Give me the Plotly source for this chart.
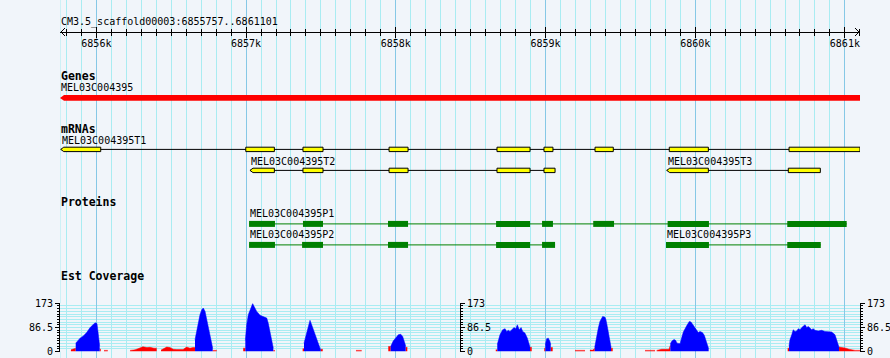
import plotly.graph_objects as go

# ---------------- data ----------------
seq_name = "CM3.5_scaffold00003"
region_start = 6855757
region_end = 6861101
tick_vals = [6856000, 6857000, 6858000, 6859000, 6860000, 6861000]
tick_labels = ["6856k", "6857k", "6858k", "6859k", "6860k", "6861k"]

track_titles = ["Genes", "mRNAs", "Proteins", "Est Coverage"]

gene_name = "MEL03C004395"
gene_span = [6855757, 6861101]

mrna_names = ["MEL03C004395T1", "MEL03C004395T2", "MEL03C004395T3"]
mrna_rows = [0, 1, 1]
mrna_exons = [
    [[6855762, 6856029], [6856998, 6857189], [6857380, 6857514], [6857955, 6858082],
     [6858676, 6858897], [6858990, 6859050], [6859331, 6859453], [6859827, 6860088],
     [6860627, 6861101]],
    [[6857026, 6857189], [6857380, 6857514], [6857955, 6858082], [6858676, 6858897],
     [6858990, 6859064]],
    [[6859810, 6860088], [6860622, 6860836]],
]

protein_names = ["MEL03C004395P1", "MEL03C004395P2", "MEL03C004395P3"]
protein_rows = [0, 1, 1]
protein_blocks = [
    [[6857020, 6857193], [6857380, 6857514], [6857948, 6858082], [6858670, 6858897],
     [6858977, 6859050], [6859319, 6859458], [6859816, 6860092], [6860615, 6861012]],
    [[6857020, 6857193], [6857374, 6857514], [6857948, 6858082], [6858670, 6858897],
     [6858977, 6859064]],
    [[6859805, 6860092], [6860615, 6860839]],
]

cov_max = 173
cov_tick_vals = [0, 86.5, 173]
cov_tick_labels = ["0", "86.5", "173"]

cov_blue_pos = [
    6855862, 6855879, 6855891, 6855913, 6855935, 6855957, 6855975, 6855984, 6855997, 6856004, 6856011, 6856017, 6856022, None,
    6856659, 6856670, 6856681, 6856692, 6856704, 6856714, 6856726, 6856737, 6856748, 6856759, 6856770, 6856777, None,
    6856995, 6857004, 6857015, 6857026, 6857044, 6857053, 6857071, 6857093, 6857115, 6857138, 6857148, 6857160, 6857171, 6857182, None,
    6857387, 6857405, 6857418, 6857427, 6857438, 6857449, 6857460, 6857472, 6857482, 6857494, 6857498, None,
    6857966, 6857983, 6858002, 6858017, 6858033, 6858046, 6858057, 6858066, None,
    6858678, 6858696, 6858714, 6858730, 6858741, 6858752, 6858763, 6858774, 6858790, 6858801, 6858812, 6858825, 6858837, 6858848, 6858863, 6858879, 6858892, 6858897, None,
    6858999, 6859008, 6859019, 6859030, 6859035, None,
    6859329, 6859342, 6859353, 6859364, 6859376, 6859382, 6859398, 6859404, 6859413, 6859422, 6859431, 6859438, None,
    6859834, 6859845, 6859859, 6859869, 6859879, 6859899, 6859910, 6859921, 6859943, 6859961, 6859972, 6859983, 6859999, 6860010, 6860021, 6860032, 6860048, 6860061, 6860072, 6860084, 6860090, None,
    6860627, 6860633, 6860645, 6860655, 6860667, 6860678, 6860689, 6860700, 6860712, 6860722, 6860734, 6860745, 6860756, 6860767, 6860778, 6860789, 6860800, 6860822, 6860845, 6860867, 6860889, 6860912, 6860934, 6860945, 6860956, 6860961,
]
cov_blue_val = [
    30, 42, 48, 56, 68, 85, 97, 100, 103, 100, 70, 40, 20, None,
    42, 72, 108, 132, 150, 156, 144, 114, 78, 48, 24, 12, None,
    40, 96, 132, 150, 172, 162, 144, 130, 124, 120, 102, 72, 42, 12, None,
    30, 72, 102, 112, 96, 78, 60, 42, 28, 12, 8, None,
    18, 38, 50, 60, 62, 54, 36, 20, None,
    25, 60, 78, 82, 72, 76, 72, 78, 86, 82, 96, 78, 86, 72, 66, 48, 24, 15, None,
    24, 46, 48, 36, 24, None,
    15, 60, 84, 108, 120, 126, 123, 114, 90, 60, 31, 15, None,
    28, 38, 43, 40, 30, 28, 50, 70, 92, 108, 106, 98, 84, 74, 68, 72, 68, 58, 40, 20, 10, None,
    20, 42, 60, 78, 72, 74, 82, 78, 86, 90, 96, 86, 90, 84, 78, 82, 76, 74, 76, 72, 72, 70, 60, 42, 24, 15,
]

cov_red_pos = [
    6855830, 6855844, 6855862, None, 6856022, 6856029, None, 6856051, 6856076, None,
    6856225, 6856258, 6856278, 6856291, 6856311, 6856338, 6856358, 6856385, 6856403, None,
    6856432, 6856445, 6856458, 6856470, 6856492, 6856514, 6856537, 6856579, 6856603, 6856625, 6856645, 6856659, None,
    6856777, 6856804, None, 6856981, 6856995, None, 6857182, 6857193, None, 6857378, 6857387, None,
    6857498, 6857512, None, 6857734, 6857772, None, 6857950, 6857966, None, 6858066, 6858077, None,
    6858668, 6858678, None, 6858897, 6858908, None, 6858992, 6858999, None, 6859035, 6859048, None,
    6859197, 6859264, None, 6859297, 6859317, 6859329, None, 6859438, 6859449, None, 6859665, 6859732, None,
    6859743, 6859776, 6859825, 6859834, None, 6860618, 6860627, None,
    6860961, 6860987, 6861007, 6861028, 6861046, 6861068, 6861101,
]
cov_red_val = [
    6, 8, 12, None, 10, 8, None, 4, 4, None,
    4, 6, 10, 14, 17, 14, 15, 12, 12, None,
    5, 8, 12, 16, 14, 8, 7, 7, 16, 12, 14, 14, None,
    4, 4, None, 12, 12, None, 4, 4, None, 10, 10, None,
    8, 8, None, 4, 4, None, 18, 18, None, 15, 15, None,
    6, 6, None, 15, 15, None, 12, 12, None, 14, 14, None,
    4, 4, None, 5, 5, 12, None, 12, 12, None, 4, 4, None,
    4, 8, 8, 22, None, 12, 12, None,
    16, 14, 12, 8, 5, 4, 4,
]

# ---------------- style / layout ----------------
W, H = 890, 358
ML, MR = 60, 30
BG = "#f1f5fa"
GRID_MINOR = "#a9ecf2"
GRID_MAJOR = "#86c8e6"
MONO = "DejaVu Sans Mono"
BP_PER_PX = (region_end - region_start) / (W - ML - MR)

RULER_Y = 32
COV_TOP_Y, COV_BASE_Y = 303.3, 351.5


def split_segments(xs, ys):
    segs, cx, cy = [], [], []
    for a, b in zip(xs, ys):
        if a is None:
            if cx:
                segs.append((cx, cy))
            cx, cy = [], []
        else:
            cx.append(a)
            cy.append(b)
    if cx:
        segs.append((cx, cy))
    return segs


fig = go.Figure()

# coverage
for xs, ys in split_segments(cov_red_pos, cov_red_val):
    fig.add_trace(go.Scatter(x=xs, y=ys, xaxis="x", yaxis="y2", mode="lines",
                             line=dict(width=0.5, color="#ff0000"), fill="tozeroy",
                             fillcolor="#ff0000", hoverinfo="skip", showlegend=False))
for xs, ys in split_segments(cov_blue_pos, cov_blue_val):
    fig.add_trace(go.Scatter(x=xs, y=ys, xaxis="x", yaxis="y2", mode="lines",
                             line=dict(width=0.5, color="#0000ff"), fill="tozeroy",
                             fillcolor="#0000ff", hoverinfo="skip", showlegend=False))

# invisible anchors for other axes
for ya in ["y", "y3", "y4"]:
    fig.add_trace(go.Scatter(x=[region_start], y=[0 if ya != "y" else -10], xaxis="x", yaxis=ya,
                             mode="markers", marker=dict(opacity=0), hoverinfo="skip",
                             showlegend=False))
fig.add_trace(go.Scatter(x=[region_start], y=[-10], xaxis="x2", yaxis="y",
                         mode="markers", marker=dict(opacity=0), hoverinfo="skip",
                         showlegend=False))

shapes = []
annotations = []

# left edge grid line
shapes.append(dict(type="line", xref="x", yref="paper", x0=region_start, x1=region_start,
                   y0=0, y1=1, line=dict(color=GRID_MINOR, width=1), layer="below"))

# ruler arrows
shapes.append(dict(type="path", xref="x", yref="y", xsizemode="pixel", xanchor=region_start,
                   path=f"M5,{RULER_Y-4} L1,{RULER_Y} L5,{RULER_Y+4}",
                   line=dict(color="black", width=1)))
shapes.append(dict(type="path", xref="x", yref="y", xsizemode="pixel", xanchor=region_end,
                   path=f"M-5,{RULER_Y-4} L-1,{RULER_Y} L-5,{RULER_Y+4}",
                   line=dict(color="black", width=1)))

annotations.append(dict(xref="paper", yref="y", x=0, y=21.7, xanchor="left", yanchor="middle",
                        text=f"{seq_name}:{region_start}..{region_end}", showarrow=False,
                        font=dict(family=MONO, size=10, color="black"), borderpad=0))

# track titles
title_y = [76, 128.5, 202, 275.7]
for t, ty in zip(track_titles, title_y):
    annotations.append(dict(xref="paper", yref="y", x=0, y=ty, xanchor="left", yanchor="middle",
                            text=f"<b>{t}</b>", showarrow=False,
                            font=dict(family=MONO, size=11.5, color="black"), borderpad=0))

# gene
gy0, gy1, gyc = 95, 100.8, 97.9
tip = 4 * BP_PER_PX
g0, g1 = gene_span
shapes.append(dict(type="path", xref="x", yref="y",
                   path=f"M{g0},{gyc} L{g0+tip},{gy0} L{g1},{gy0} L{g1},{gy1} L{g0+tip},{gy1} Z",
                   fillcolor="#ff0000", line=dict(width=0)))
annotations.append(dict(xref="x", yref="y", x=g0, y=87.3, xanchor="left", yanchor="middle",
                        text=gene_name, showarrow=False,
                        font=dict(family=MONO, size=10, color="black"), borderpad=0))

# mRNAs
for name, row, exons in zip(mrna_names, mrna_rows, mrna_exons):
    yc = 149.4 + 21 * row
    s = min(e[0] for e in exons)
    e_ = max(e[1] for e in exons)
    shapes.append(dict(type="line", xref="x", yref="y", x0=s, x1=e_, y0=yc, y1=yc,
                       line=dict(color="black", width=1)))
    for i, (a, b) in enumerate(sorted(exons)):
        if i == 0:
            t3 = 3 * BP_PER_PX
            path = f"M{a},{yc} L{a+t3},{yc-2.2} L{b},{yc-2.2} L{b},{yc+2.2} L{a+t3},{yc+2.2} Z"
        else:
            path = f"M{a},{yc-2.2} L{b},{yc-2.2} L{b},{yc+2.2} L{a},{yc+2.2} Z"
        shapes.append(dict(type="path", xref="x", yref="y", path=path,
                           fillcolor="#ffff00", line=dict(color="black", width=1)))
    annotations.append(dict(xref="x", yref="y", x=s, y=yc - 9.3, xanchor="left", yanchor="middle",
                            text=name, showarrow=False,
                            font=dict(family=MONO, size=10, color="black"), borderpad=0))

# proteins
for name, row, blocks in zip(protein_names, protein_rows, protein_blocks):
    yc = 223.9 + 21 * row
    s = min(b[0] for b in blocks)
    e_ = max(b[1] for b in blocks)
    shapes.append(dict(type="line", xref="x", yref="y", x0=s, x1=e_, y0=yc, y1=yc,
                       line=dict(color="#008000", width=1)))
    for a, b in blocks:
        shapes.append(dict(type="rect", xref="x", yref="y", x0=a, x1=b, y0=yc - 3, y1=yc + 3,
                           fillcolor="#008000", line=dict(width=0)))
    annotations.append(dict(xref="x", yref="y", x=s, y=yc - 10.3, xanchor="left", yanchor="middle",
                            text=name, showarrow=False,
                            font=dict(family=MONO, size=10, color="black"), borderpad=0))

ruler_pos = (H - RULER_Y) / H
cov_dom = [(H - COV_BASE_Y) / H, (H - COV_TOP_Y) / H]
cov_minor = cov_max / 18

common_cov_axis = dict(range=[0, cov_max], tickmode="array", tickvals=cov_tick_vals,
                       ticktext=cov_tick_labels, ticks="outside", ticklen=4, tickwidth=1,
                       tickcolor="black", showline=True, linecolor="black", linewidth=1,
                       zeroline=False, fixedrange=True, automargin=False,
                       tickfont=dict(family=MONO, size=10, color="black"))

fig.update_layout(
    width=W, height=H,
    margin=dict(l=ML, r=MR, t=0, b=0, pad=0, autoexpand=False),
    paper_bgcolor=BG, plot_bgcolor=BG,
    showlegend=False,
    xaxis=dict(range=[region_start, region_end], anchor="free", position=ruler_pos,
               side="bottom", showline=True, linecolor="black", linewidth=1,
               tickmode="array", tickvals=tick_vals, ticktext=tick_labels,
               ticks="outside", ticklen=5, tickwidth=1, tickcolor="black",
               ticklabelstandoff=-3,
               tickfont=dict(family=MONO, size=10, color="black"),
               showgrid=True, gridcolor=GRID_MAJOR, gridwidth=1, zeroline=False,
               automargin=False,
               minor=dict(tickmode="linear", tick0=0, dtick=100, ticks="outside",
                          ticklen=3, tickwidth=1, tickcolor="black",
                          showgrid=True, gridcolor=GRID_MINOR, gridwidth=1),
               fixedrange=True),
    xaxis2=dict(range=[region_start, region_end], matches="x", overlaying="x",
                anchor="free", position=ruler_pos, side="top", showline=False,
                tickmode="array", tickvals=tick_vals, showticklabels=False,
                ticks="outside", ticklen=5, tickwidth=1, tickcolor="black",
                showgrid=False, zeroline=False, automargin=False,
                minor=dict(tickmode="linear", tick0=0, dtick=100, ticks="outside",
                           ticklen=3, tickwidth=1, tickcolor="black", showgrid=False),
                fixedrange=True),
    yaxis=dict(range=[H, 0], domain=[0, 1], visible=False, fixedrange=True, automargin=False),
    yaxis2=dict(domain=cov_dom, anchor="x", side="left", showgrid=True,
                gridcolor=GRID_MINOR, gridwidth=1,
                minor=dict(tickmode="linear", tick0=0, dtick=cov_minor, ticks="outside",
                           ticklen=2, tickwidth=1, tickcolor="black", showgrid=True,
                           gridcolor=GRID_MINOR, gridwidth=1),
                **common_cov_axis),
    yaxis3=dict(overlaying="y2", anchor="free", position=0.5, side="right", showgrid=False,
                matches="y2", autoshift=False,
                minor=dict(tickmode="linear", tick0=0, dtick=cov_minor, ticks="outside",
                           ticklen=2, tickwidth=1, tickcolor="black", showgrid=False),
                **common_cov_axis),
    yaxis4=dict(overlaying="y2", anchor="free", position=1.0, side="right", showgrid=False,
                matches="y2", autoshift=False,
                minor=dict(tickmode="linear", tick0=0, dtick=cov_minor, ticks="outside",
                           ticklen=2, tickwidth=1, tickcolor="black", showgrid=False),
                **common_cov_axis),
    shapes=shapes,
    annotations=annotations,
)

fig.write_html("out.html",
               config={"displayModeBar": False, "staticPlot": True},
               post_script="document.body.style.margin='0';document.body.style.padding='0';"
                           "document.documentElement.style.overflow='hidden';")
